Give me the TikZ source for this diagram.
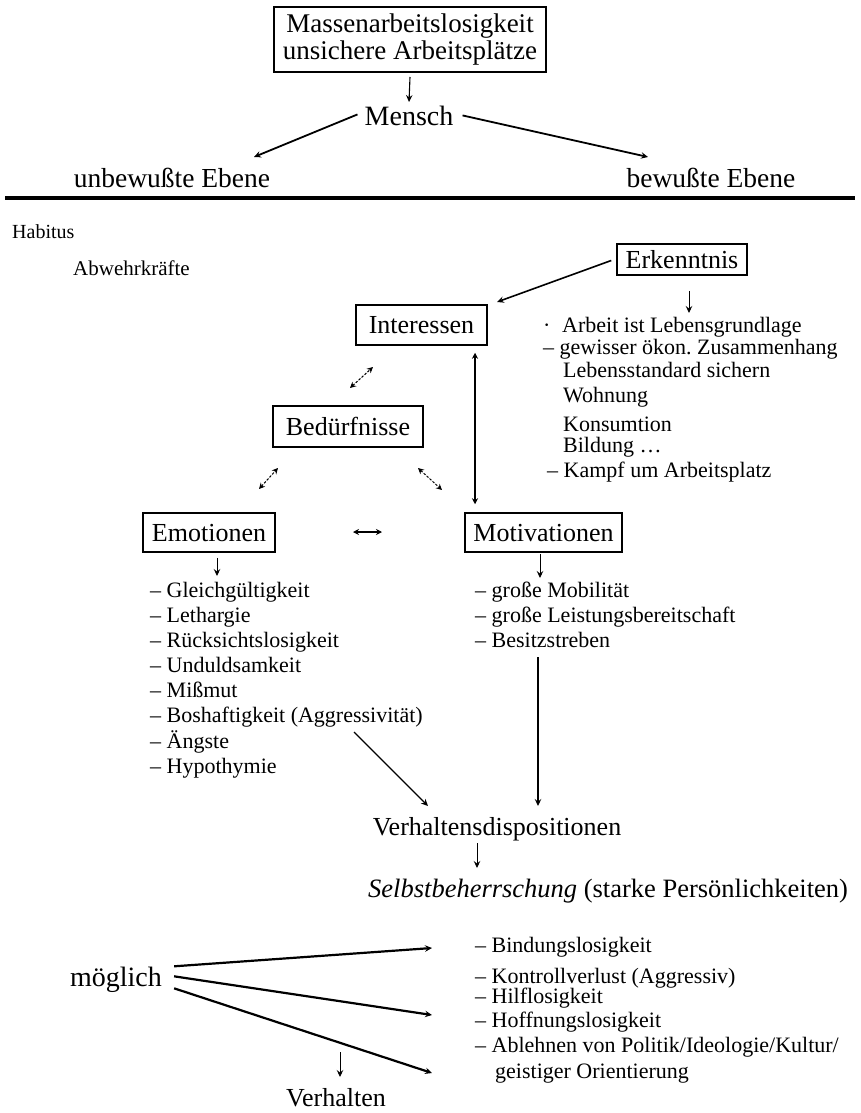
\documentclass[tikz,border=0pt]{standalone}
\usepackage{fontspec}
\setmainfont{Liberation Serif}
\usetikzlibrary{arrows.meta}
\newcommand\fsz[1]{\fontsize{#1}{#1}\selectfont}
\frenchspacing
\begin{document}
\begin{tikzpicture}[x=1pt,y=-1pt,
  boxbase/.style={draw, line width=1.5pt, inner sep=0pt},
  box/.style={boxbase, font=\fsz{26}, text height=18pt, text depth=1pt},
  lbl/.style={inner sep=0pt, anchor=base},
  item/.style={inner sep=0pt, anchor=base west, font=\fsz{22}},
  tip/.style={-{Stealth[length=7pt,width=6.5pt,inset=2.5pt]}},
  arr/.style={tip, line width=1.1pt},
  arrb/.style={tip, line width=1.8pt},
  darr/.style={{Stealth[length=6pt,width=6pt,inset=2pt]}-{Stealth[length=6pt,width=6pt,inset=2pt]}, line width=1.2pt},
  sdarr/.style={darr, line width=1pt, dash pattern=on 2.5pt off 1.5pt}
]
\fill[white] (0,0) rectangle (860,1113);
\useasboundingbox (0,0) rectangle (860,1113);

% ---------- upper part ----------
\node[boxbase, align=center, font=\fontsize{27}{27.5}\selectfont,
      minimum width=272pt, minimum height=65pt] (top) at (410,39.5)
  {Massenarbeitslosigkeit\\unsichere Arbeitsplätze};
\node[lbl, font=\fsz{28}] (mensch) at (409,126) {Mensch};
\node[lbl, font=\fsz{27.5}] (unb) at (172,187) {unbewußte Ebene};
\node[lbl, font=\fsz{27.5}] (bew) at (711,187) {bewußte Ebene};

\coordinate (unbend) at (254,157);
\coordinate (bewend) at (648,157);
\coordinate (menschin) at (409,102);
\draw[arr] (top.south |- 0,77) -- (menschin);
\draw[arrb] ([xshift=-7pt,yshift=2pt]mensch.west) -- (unbend);
\draw[arrb] ([xshift=9pt,yshift=1pt]mensch.east) -- (bewend);

\coordinate (ruleL) at (5,198);
\coordinate (ruleR) at (855,198);
\draw[line width=3.5pt] (ruleL) -- (ruleR);

% ---------- lower left labels ----------
\node[item, font=\fsz{20}] (habitus) at (12,238) {Habitus};
\node[item, font=\fsz{21}] (abwehr) at (73,275) {Abwehrkräfte};

% ---------- boxes ----------
\node[box, minimum width=130pt, minimum height=31pt] (erk) at (682,259.5) {Erkenntnis};
\node[box, minimum width=131pt, minimum height=40pt] (int) at (421.5,325) {Interessen};
\node[box, minimum width=150pt, minimum height=41pt] (bed) at (348,426.5) {Bedürfnisse};
\node[box, minimum width=132pt, minimum height=39pt] (emo) at (209,532.5) {Emotionen};
\node[box, minimum width=157pt, minimum height=39pt] (mot) at (543.5,532.5) {Motivationen};

% Erkenntnis connections
\coordinate (intin) at (497,302);
\draw[arrb, line width=1.6pt] ([xshift=-5pt,yshift=-1pt]erk.west) -- (intin);
\coordinate (erkx) at (689,0);
\coordinate (erkend) at (689,313);
\draw[arr, line width=0.9pt] (erk.south -| erkx) ++(0,15) -- (erkend);

% Erkenntnis list
\node[item] (k0) at (543,332) {·};
\node[item] (k1) at (562,332) {Arbeit ist Lebensgrundlage};
\node[item] (k2) at (543,354) {– gewisser ökon. Zusammenhang};
\node[item] (k3) at (563,377) {Lebensstandard sichern};
\node[item] (k4) at (563,402) {Wohnung};
\node[item] (k5) at (563,431) {Konsumtion};
\node[item] (k6) at (563,452) {Bildung …};
\node[item] (k7) at (547,477) {– Kampf um Arbeitsplatz};

% small two-way links
\coordinate (ib1) at (350,388);
\coordinate (ib2) at (373,367);
\draw[sdarr] (ib1) -- (ib2);
\coordinate (be1) at (259,489);
\coordinate (be2) at (278,468);
\draw[sdarr] (be1) -- (be2);
\coordinate (bm1) at (418,468);
\coordinate (bm2) at (442,490);
\draw[sdarr] (bm1) -- (bm2);

% Interessen <-> Motivationen
\coordinate (imx) at (475,0);
\draw[darr] (int.south -| imx) ++(0,7) -- ([yshift=8pt]mot.north -| imx);

% Emotionen <-> Motivationen
\coordinate (em1) at (353,532);
\coordinate (em2) at (382,532);
\draw[darr, line width=1.4pt] (em1) -- (em2);

% Emotionen list
\coordinate (emox) at (217,0);
\coordinate (emoend) at (217,576);
\draw[arr, line width=0.9pt] (emo.south -| emox) ++(0,5) -- (emoend);
\node[item] (e1) at (150,597) {– Gleichgültigkeit};
\node[item] (e2) at (150,622) {– Lethargie};
\node[item] (e3) at (150,647) {– Rücksichtslosigkeit};
\node[item] (e4) at (150,672) {– Unduldsamkeit};
\node[item] (e5) at (150,697) {– Mißmut};
\node[item] (e6) at (150,722) {– Boshaftigkeit (Aggressivität)};
\node[item] (e7) at (150,748) {– Ängste};
\node[item] (e8) at (150,773) {– Hypothymie};

% Motivationen list
\coordinate (motx) at (540,0);
\coordinate (motend) at (540,578);
\draw[arr, line width=0.9pt] (mot.south -| motx) ++(0,1) -- (motend);
\node[item] (m1) at (475,597) {– große Mobilität};
\node[item] (m2) at (475,622) {– große Leistungsbereitschaft};
\node[item] (m3) at (475,647) {– Besitzstreben};

% ---------- dispositions ----------
\node[lbl, font=\fsz{26}] (vd) at (497,835) {Verhaltensdispositionen};
\coordinate (vx) at (538,0);
\coordinate (vdin) at (538,806);
\draw[arr, line width=1.4pt] (m3.base -| vx) ++(0,10) -- (vdin);
\coordinate (bs) at (354,732);
\coordinate (vdin2) at (428,806);
\draw[arr, line width=1.4pt] (bs) -- (vdin2);

\node[lbl, font=\fsz{26.5}, anchor=base west] (sb) at (368,897)
  {\itshape Selbstbeherrschung\upshape{} (starke Persönlichkeiten)};
\coordinate (vdx) at (477,0);
\coordinate (sbin) at (477,868);
\draw[arr, line width=0.9pt] (vd.base -| vdx) ++(0,8) -- (sbin);

% ---------- possible outcomes ----------
\node[lbl, font=\fsz{28}] (mg) at (116,986) {möglich};
\coordinate (p1) at (432,948);
\coordinate (p2) at (432,1015);
\coordinate (p3) at (432,1073);
\draw[arrb, line width=2.2pt] ([shift={(12pt,13pt)}]mg.east) -- (p1);
\draw[arrb, line width=2.2pt] ([shift={(12pt,3pt)}]mg.east) -- (p2);
\draw[arrb, line width=2.2pt] ([shift={(12pt,-9pt)}]mg.east) -- (p3);

\node[item] (o1) at (475,952) {– Bindungslosigkeit};
\node[item] (o2) at (475,983) {– Kontrollverlust (Aggressiv)};
\node[item] (o3) at (475,1003) {– Hilflosigkeit};
\node[item] (o4) at (475,1027) {– Hoffnungslosigkeit};
\node[item] (o5) at (475,1052) {– Ablehnen von Politik/Ideologie/Kultur/};
\node[item] (o6) at (495,1078) {geistiger Orientierung};

\node[lbl, font=\fsz{26}] (vh) at (336,1106) {Verhalten};
\coordinate (vhs) at (340,1052);
\coordinate (vhend) at (340,1077);
\draw[arr, line width=0.9pt] (vhs) -- (vhend);
\end{tikzpicture}
\end{document}
